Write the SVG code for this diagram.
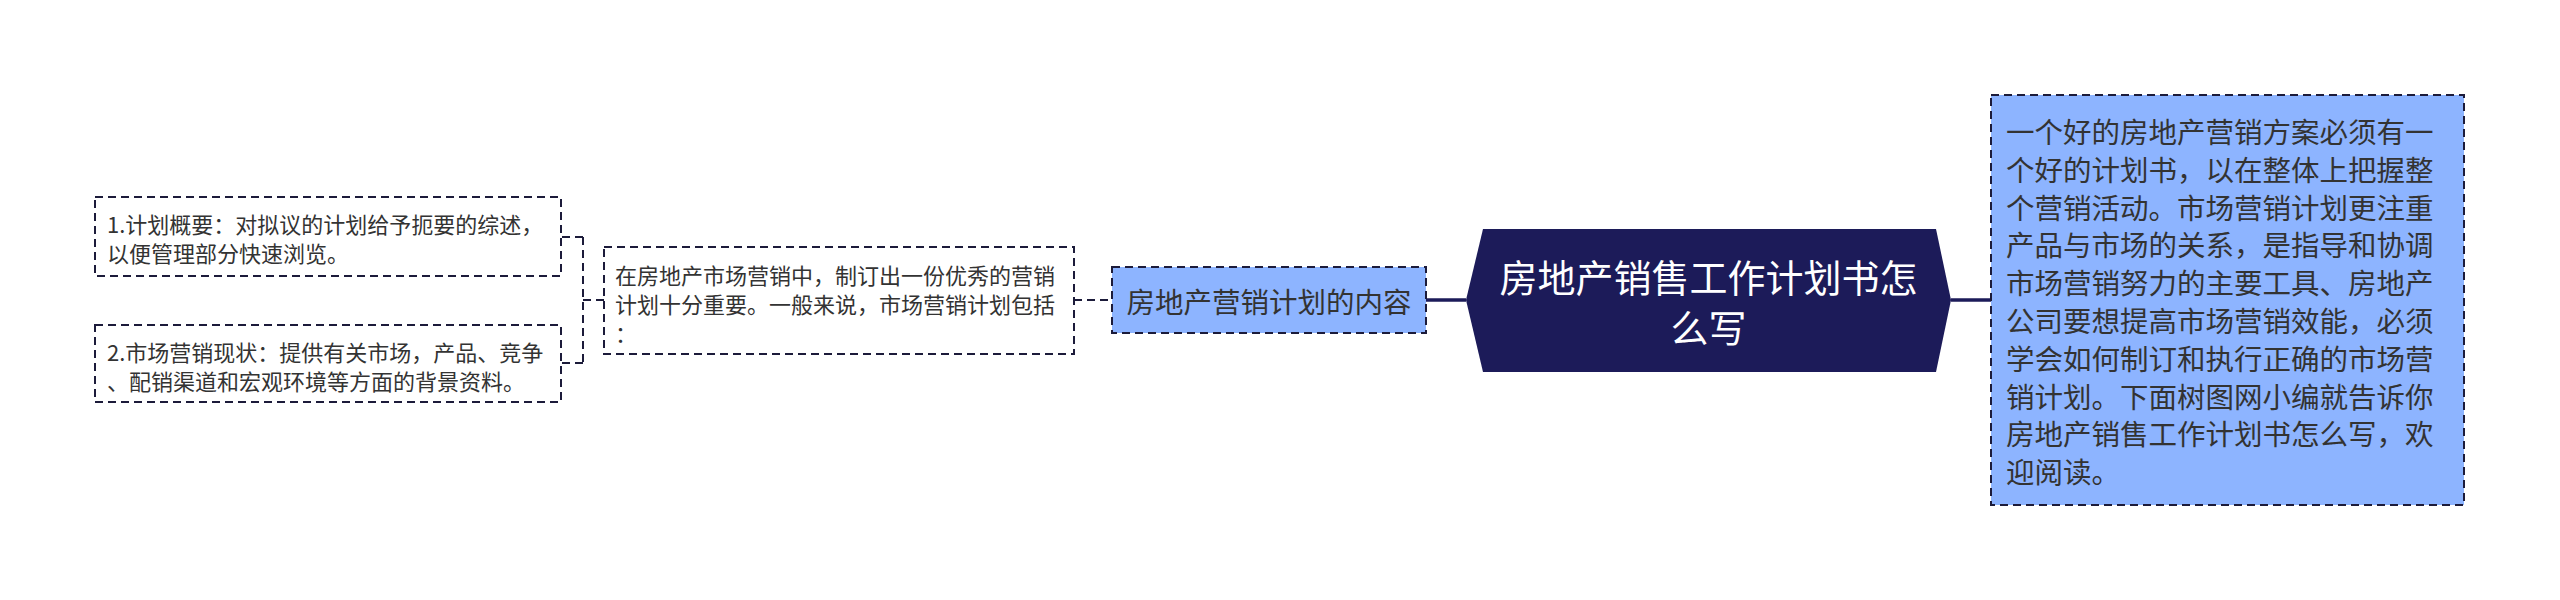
<svg xmlns="http://www.w3.org/2000/svg" width="2560" height="600" viewBox="0 0 2560 600">
<style>
text{font-family:"Noto Sans CJK SC","Noto Sans",sans-serif;}
.box{stroke:#1c1b3a;stroke-width:2;stroke-dasharray:8 5;}
.blue{fill:#8db4ff;}
.white{fill:#ffffff;}
.conn{fill:none;stroke:#1c1b3a;stroke-width:2;stroke-dasharray:8 5;}
.solid{fill:none;stroke:#1c1b59;stroke-width:3.5;}
.t22{font-size:22px;fill:#333333;}
.t28{font-size:28.5px;fill:#333333;}
.root{font-size:38px;fill:#ffffff;}
</style>
<rect width="2560" height="600" fill="#ffffff"/>
<g id="connectors">
<line class="solid" x1="1426" y1="300" x2="1466" y2="300"/>
<line class="solid" x1="1951" y1="300" x2="1991" y2="300"/>
<line class="conn" x1="1074" y1="300" x2="1112" y2="300"/>
<path class="conn" d="M604 300 H583 M583 237 V363 M583 237 H561 M583 363 H561"/>
</g>
<g id="root">
<polygon points="1483,229 1936,229 1951,300 1936,372 1483,372 1466,300" fill="#1c1b59"/>
<text class="root" x="1708.5" y="275" text-anchor="middle" dominant-baseline="central">房地产销售工作计划书怎</text>
<text class="root" x="1708.5" y="325" text-anchor="middle" dominant-baseline="central">么写</text>
</g>
<g id="intro">
<rect class="box blue" x="1991" y="95" width="473" height="410"/>
<text class="t28" x="2006" dominant-baseline="central">
<tspan x="2006" y="130">一个好的房地产营销方案必须有一</tspan>
<tspan x="2006" y="167.8">个好的计划书，以在整体上把握整</tspan>
<tspan x="2006" y="205.6">个营销活动。市场营销计划更注重</tspan>
<tspan x="2006" y="243.4">产品与市场的关系，是指导和协调</tspan>
<tspan x="2006" y="281.2">市场营销努力的主要工具、房地产</tspan>
<tspan x="2006" y="319">公司要想提高市场营销效能，必须</tspan>
<tspan x="2006" y="356.8">学会如何制订和执行正确的市场营</tspan>
<tspan x="2006" y="394.6">销计划。下面树图网小编就告诉你</tspan>
<tspan x="2006" y="432.4">房地产销售工作计划书怎么写，欢</tspan>
<tspan x="2006" y="470.2">迎阅读。</tspan>
</text>
</g>
<g id="content">
<rect class="box blue" x="1112" y="267" width="314" height="66"/>
<text class="t28" x="1269" y="300" text-anchor="middle" dominant-baseline="central">房地产营销计划的内容</text>
</g>
<g id="summary">
<rect class="box white" x="604" y="247" width="470" height="107"/>
<text class="t22" dominant-baseline="central">
<tspan x="615" y="274">在房地产市场营销中，制订出一份优秀的营销</tspan>
<tspan x="615" y="303">计划十分重要。一般来说，市场营销计划包括</tspan>
<tspan x="615" y="332">：</tspan>
</text>
</g>
<g id="item1">
<rect class="box white" x="95" y="197" width="466" height="79"/>
<text class="t22" dominant-baseline="central">
<tspan x="107" y="223">1.计划概要：对拟议的计划给予扼要的综述，</tspan>
<tspan x="107" y="252">以便管理部分快速浏览。</tspan>
</text>
</g>
<g id="item2">
<rect class="box white" x="95" y="325" width="466" height="77"/>
<text class="t22" dominant-baseline="central">
<tspan x="107" y="351">2.市场营销现状：提供有关市场，产品、竞争</tspan>
<tspan x="107" y="380">、配销渠道和宏观环境等方面的背景资料。</tspan>
</text>
</g>
</svg>
